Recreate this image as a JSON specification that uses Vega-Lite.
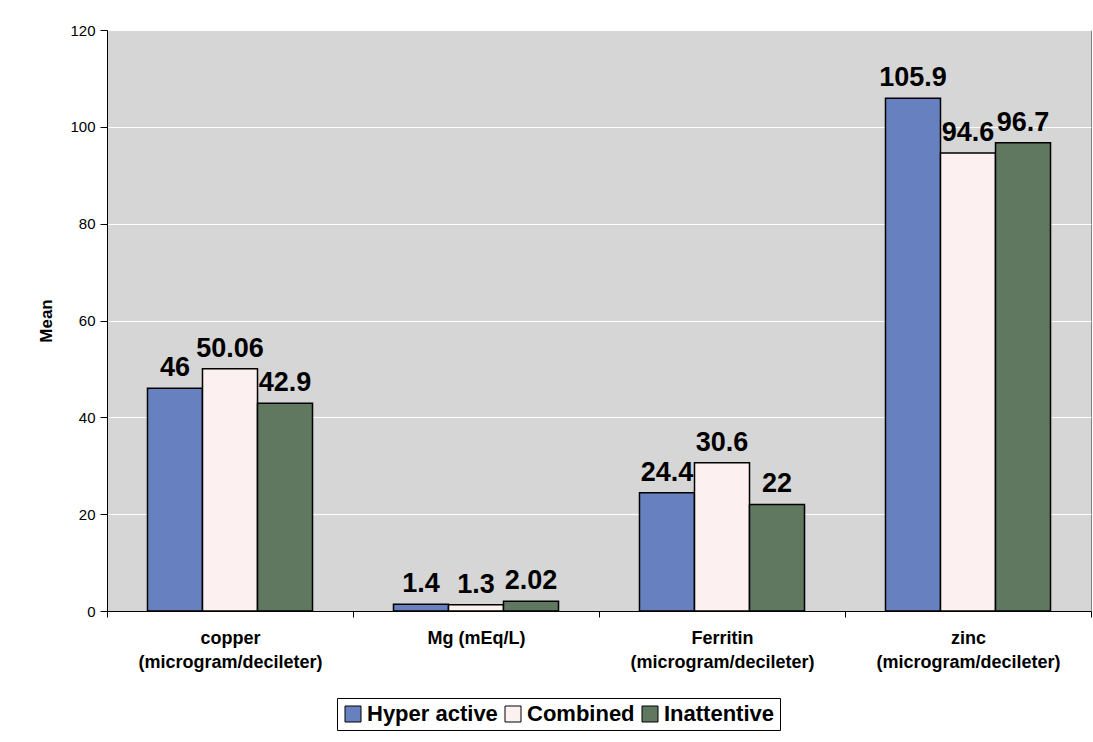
{
  "$schema": "https://vega.github.io/schema/vega-lite/v6.json",
  "width": 984,
  "height": 581,
  "autosize": "none",
  "padding": {"left": 107, "top": 30, "right": 2, "bottom": 131},
  "background": "white",
  "config": {
    "font": "Liberation Sans",
    "view": {"fill": "#d6d6d6", "stroke": "#808080", "strokeWidth": 1}
  },
  "data": {
    "values": [
      {"analyte": "copper (microgram/decileter)", "group": "Hyper active", "mean": 46},
      {"analyte": "copper (microgram/decileter)", "group": "Combined", "mean": 50.06},
      {"analyte": "copper (microgram/decileter)", "group": "Inattentive", "mean": 42.9},
      {"analyte": "Mg (mEq/L)", "group": "Hyper active", "mean": 1.4},
      {"analyte": "Mg (mEq/L)", "group": "Combined", "mean": 1.3},
      {"analyte": "Mg (mEq/L)", "group": "Inattentive", "mean": 2.02},
      {"analyte": "Ferritin (microgram/decileter)", "group": "Hyper active", "mean": 24.4},
      {"analyte": "Ferritin (microgram/decileter)", "group": "Combined", "mean": 30.6},
      {"analyte": "Ferritin (microgram/decileter)", "group": "Inattentive", "mean": 22},
      {"analyte": "zinc (microgram/decileter)", "group": "Hyper active", "mean": 105.9},
      {"analyte": "zinc (microgram/decileter)", "group": "Combined", "mean": 94.6},
      {"analyte": "zinc (microgram/decileter)", "group": "Inattentive", "mean": 96.7}
    ]
  },
  "encoding": {
    "x": {
      "field": "analyte",
      "type": "nominal",
      "sort": null,
      "scale": {"paddingInner": 0, "paddingOuter": 0},
      "axis": {
        "title": null,
        "labelAngle": 0,
        "labelExpr": "datum.label == 'Mg (mEq/L)' ? datum.label : split(datum.label, ' ')",
        "labelFontSize": 18,
        "labelFontWeight": "bold",
        "labelColor": "black",
        "labelLineHeight": 24,
        "labelLimit": 400,
        "labelPadding": 12,
        "labelBaseline": "top",
        "tickBand": "extent",
        "tickSize": 6,
        "tickColor": "black",
        "domainColor": "black",
        "domainWidth": 1
      }
    },
    "xOffset": {
      "field": "group",
      "type": "nominal",
      "sort": ["Hyper active", "Combined", "Inattentive"],
      "scale": {"paddingInner": 0, "paddingOuter": 0.736}
    },
    "y": {
      "field": "mean",
      "type": "quantitative",
      "scale": {"domain": [0, 120]},
      "axis": {
        "title": "Mean",
        "titleFontSize": 17,
        "titleFontWeight": "bold",
        "titleColor": "black",
        "titlePadding": 14,
        "values": [0, 20, 40, 60, 80, 100, 120],
        "labelFontSize": 15,
        "labelColor": "black",
        "labelPadding": 5,
        "tickSize": 7,
        "tickColor": "black",
        "domainColor": "black",
        "gridColor": "white",
        "gridWidth": 1
      }
    }
  },
  "layer": [
    {
      "mark": {"type": "bar", "stroke": "black", "strokeWidth": 1.5},
      "encoding": {
        "color": {
          "field": "group",
          "type": "nominal",
          "sort": ["Hyper active", "Combined", "Inattentive"],
          "scale": {
            "domain": ["Hyper active", "Combined", "Inattentive"],
            "range": ["#6680c0", "#fdf0f0", "#5f785f"]
          },
          "legend": {
            "title": null,
            "orient": "none",
            "legendX": 230,
            "legendY": 668,
            "direction": "horizontal",
            "strokeColor": "black",
            "fillColor": "white",
            "padding": 5,
            "symbolType": "square",
            "symbolSize": 256,
            "symbolStrokeColor": "black",
            "symbolStrokeWidth": 1,
            "labelFontSize": 22,
            "labelFontWeight": "bold",
            "labelColor": "black",
            "labelOffset": 3,
            "columnPadding": 4
          }
        }
      }
    },
    {
      "mark": {
        "type": "text",
        "baseline": "alphabetic",
        "align": "center",
        "dy": -12,
        "fontSize": 27,
        "fontWeight": "bold",
        "color": "black"
      },
      "encoding": {
        "text": {"field": "mean", "type": "quantitative"}
      }
    }
  ]
}
